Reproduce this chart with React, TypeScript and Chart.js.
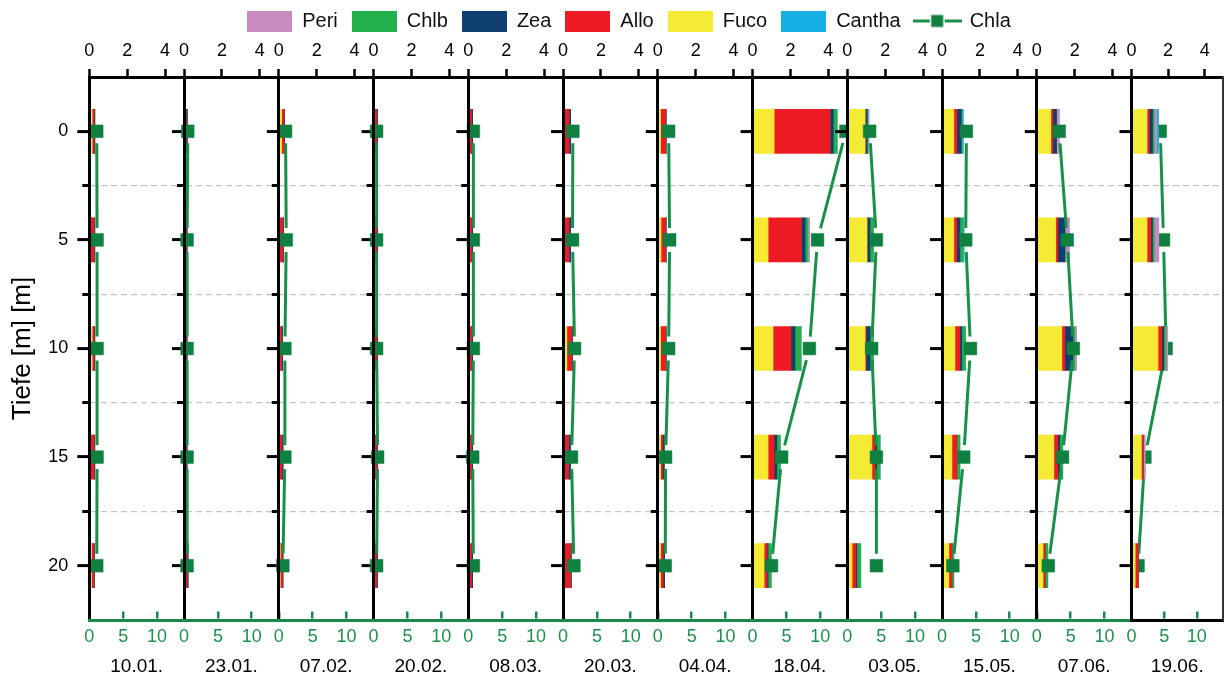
import React, { useEffect, useRef } from 'react';
import { Chart, registerables } from 'chart.js';

Chart.register(...registerables);

// ---------------- data ----------------
const dates = ['10.01.', '23.01.', '07.02.', '20.02.', '08.03.', '20.03.', '04.04.', '18.04.', '03.05.', '15.05.', '07.06.', '19.06.'];
const depths = [0, 5, 10, 15, 20];
const legendOrder = ['Peri', 'Chlb', 'Zea', 'Allo', 'Fuco', 'Cantha', 'Chla'];

// pigment values [date][depth] (top axis)
const fuco = [
  [0.15, 0.02, 0.15, 0.02, 0.12],
  [0.02, 0.02, 0.02, 0.02, 0.02],
  [0.15, 0.02, 0.05, 0.02, 0.08],
  [0.02, 0.02, 0.02, 0.02, 0.02],
  [0.02, 0.02, 0.02, 0.02, 0.02],
  [0.02, 0.02, 0.2, 0.02, 0.02],
  [0.15, 0.17, 0.15, 0.15, 0.15],
  [1.14, 0.82, 1.08, 0.82, 0.61],
  [0.94, 1.04, 0.94, 1.3, 0.25],
  [0.62, 0.62, 0.68, 0.52, 0.36],
  [0.74, 1.0, 1.32, 0.9, 0.33],
  [0.85, 0.85, 1.45, 0.54, 0.2],
];
const allo = [
  [0.1, 0.24, 0.1, 0.24, 0.12],
  [0.1, 0.1, 0.1, 0.1, 0.15],
  [0.13, 0.2, 0.1, 0.15, 0.12],
  [0.15, 0.15, 0.15, 0.15, 0.15],
  [0.15, 0.15, 0.15, 0.15, 0.15],
  [0.3, 0.3, 0.27, 0.27, 0.38],
  [0.27, 0.25, 0.27, 0.1, 0.14],
  [2.96, 1.76, 0.95, 0.32, 0.16],
  [0, 0, 0.05, 0.16, 0.21],
  [0.16, 0.16, 0.26, 0.26, 0.16],
  [0.11, 0.11, 0.16, 0.21, 0.11],
  [0.12, 0.21, 0.21, 0.1, 0.17],
];
const zea = [
  [0.04, 0.03, 0.04, 0.03, 0.03],
  [0.05, 0.04, 0.04, 0.04, 0.04],
  [0.03, 0.03, 0.05, 0.05, 0.02],
  [0.04, 0.04, 0.04, 0.04, 0.04],
  [0.06, 0.06, 0.06, 0.06, 0.06],
  [0.08, 0.08, 0.03, 0.1, 0.03],
  [0.02, 0.02, 0.02, 0.09, 0.07],
  [0.16, 0.2, 0.21, 0.14, 0.05],
  [0.1, 0.16, 0.21, 0.09, 0.05],
  [0.23, 0.16, 0.1, 0, 0],
  [0.19, 0.37, 0.42, 0.1, 0],
  [0.18, 0.09, 0.1, 0, 0],
];
const chlb = [
  [0, 0, 0, 0, 0],
  [0, 0, 0, 0, 0],
  [0, 0, 0, 0, 0],
  [0, 0, 0, 0, 0],
  [0, 0, 0, 0, 0],
  [0, 0, 0, 0, 0.02],
  [0, 0, 0, 0, 0],
  [0.2, 0.14, 0.32, 0.18, 0.16],
  [0.05, 0.18, 0.18, 0.18, 0.2],
  [0.05, 0.16, 0.2, 0.16, 0.1],
  [0, 0.03, 0.1, 0.16, 0.14],
  [0.09, 0.09, 0.12, 0, 0],
];
const peri = [
  [0, 0, 0, 0, 0],
  [0, 0, 0, 0, 0],
  [0, 0, 0, 0, 0],
  [0, 0, 0, 0, 0],
  [0, 0, 0, 0, 0],
  [0, 0, 0, 0, 0],
  [0, 0, 0, 0, 0],
  [0, 0.08, 0, 0, 0],
  [0.05, 0, 0, 0, 0],
  [0, 0, 0, 0, 0],
  [0.14, 0.2, 0.1, 0, 0],
  [0.14, 0.25, 0.1, 0.1, 0],
];
const cantha = [
  [0, 0, 0, 0, 0],
  [0, 0, 0, 0, 0],
  [0, 0, 0, 0, 0],
  [0, 0, 0, 0, 0],
  [0, 0, 0, 0, 0],
  [0, 0, 0, 0, 0],
  [0, 0, 0, 0, 0],
  [0, 0, 0, 0, 0],
  [0, 0, 0, 0, 0],
  [0.07, 0.07, 0, 0, 0],
  [0, 0, 0, 0, 0],
  [0.1, 0, 0, 0, 0],
];
// Chla [date][depth] (bottom axis)
const chla = [
  [1.1, 1.15, 1.15, 1.15, 1.1],
  [0.55, 0.45, 0.45, 0.45, 0.45],
  [1.0, 1.1, 0.9, 0.9, 0.6],
  [0.45, 0.45, 0.45, 0.6, 0.45],
  [0.75, 0.75, 0.75, 0.65, 0.75],
  [1.45, 1.4, 1.7, 1.25, 1.6],
  [1.6, 1.75, 1.6, 1.15, 1.1],
  [13.8, 9.6, 8.4, 4.3, 2.8],
  [3.3, 4.3, 3.6, 4.3, 4.3],
  [3.6, 3.5, 4.2, 3.2, 1.6],
  [3.3, 4.5, 5.4, 3.8, 1.7],
  [4.4, 4.9, 5.3, 2.05, 1.0],
];

// ---------------- styles ----------------
const FONT = "'Liberation Sans', Arial, Helvetica, sans-serif";
const COLORS: any = {
  Peri: '#c98bbf',
  Chlb: '#22b14c',
  Zea: '#0f3f6e',
  Allo: '#ed1c24',
  Fuco: '#f6eb34',
  Cantha: '#16b0e4',
};
const CHLA_MARK = '#0f8040';
const CHLA_LINE = '#19904a';
const AXIS_GREEN = '#1a8a4a';
const TEXT_GREEN = '#1f8f4e';
const GRID_GREY = '#c4c4c4';

// ---------------- layout ----------------
const PAGE_W = 1224;
const PAGE_H = 682;
const PANEL_TOP = 30;
const AREA_TOP = 77;
const AREA_BOTTOM = 620;
const AXIS0 = 89.3;
const STEP = 94.75;

function panelGeom(i: number) {
  const last = i === dates.length - 1;
  const axisX = last ? 1131.5 : AXIS0 + STEP * i;
  const panelW = last ? 91.5 : STEP;
  const left = i === 0 ? 0 : Math.floor(axisX - 16);
  const leftW = axisX - left;
  const width = Math.ceil(leftW + panelW + 14);
  const padRight = width - leftW - panelW;
  return { left, leftW, width, padRight, top: PANEL_TOP, height: PAGE_H - PANEL_TOP };
}

const isMinor = (v: any) => typeof v === 'number' && v > 0 && v < 22.5 && Math.abs(v % 5) === 2.5;
const isMajor = (v: any) => typeof v === 'number' && v >= 0 && v <= 20 && v % 5 === 0;

const gapLinePlugin = {
  id: 'gapLine',
  beforeDatasetDraw(chart: any, args: any) {
    const ds: any = chart.data.datasets[args.index];
    if (!ds.gapLine) return;
    const pts = args.meta.data;
    const ctx = chart.ctx;
    ctx.save();
    ctx.strokeStyle = ds.borderColor;
    ctx.lineWidth = 3;
    ctx.lineCap = 'butt';
    for (let k = 0; k < pts.length - 1; k++) {
      const a = pts[k];
      const b = pts[k + 1];
      const dx = b.x - a.x;
      const dy = b.y - a.y;
      const len = Math.hypot(dx, dy);
      const gap = 12;
      if (len <= 2 * gap) continue;
      const ux = dx / len;
      const uy = dy / len;
      ctx.beginPath();
      ctx.moveTo(a.x + ux * gap, a.y + uy * gap);
      ctx.lineTo(b.x - ux * gap, b.y - uy * gap);
      ctx.stroke();
    }
    ctx.restore();
  },
};

function panelConfig(i: number): any {
  const g = panelGeom(i);
  const first = i === 0;
  const last = i === dates.length - 1;
  const series = [
    { name: 'Fuco', values: fuco },
    { name: 'Allo', values: allo },
    { name: 'Zea', values: zea },
    { name: 'Chlb', values: chlb },
    { name: 'Peri', values: peri },
    { name: 'Cantha', values: cantha },
  ];
  const datasets: any[] = series.map((s) => ({
    type: 'bar',
    label: s.name,
    data: depths.map((d, k) => ({ x: s.values[i][k], y: d })),
    backgroundColor: COLORS[s.name],
    borderWidth: 0,
    barThickness: 44,
    xAxisID: 'x',
    yAxisID: 'y',
    stack: 'pig',
    order: 1,
  }));
  datasets.push({
    type: 'line',
    label: 'Chla',
    data: depths.map((d, k) => ({ x: chla[i][k], y: d })),
    xAxisID: 'x2',
    yAxisID: 'y',
    showLine: false,
    gapLine: true,
    borderColor: CHLA_LINE,
    backgroundColor: CHLA_MARK,
    pointStyle: 'rect',
    pointRadius: 9,
    pointBackgroundColor: CHLA_MARK,
    pointBorderColor: CHLA_MARK,
    pointBorderWidth: 0.5,
    clip: false,
    order: last ? 2 : 0,
  });

  const scales: any = {
    y: {
      type: 'linear',
      reverse: true,
      offset: false,
      min: -2.5,
      max: 22.5,
      ticks: {
        stepSize: 2.5,
        autoSkip: false,
        display: first,
        padding: 9,
        color: '#000',
        font: { size: 18 },
        callback: (v: any) => (isMajor(v) ? String(v) : ''),
      },
      grid: {
        display: true,
        offset: false,
        drawOnChartArea: true,
        drawTicks: true,
        tickLength: 12,
        lineWidth: 1.2,
        color: (c: any) => (isMinor(c.tick && c.tick.value) ? GRID_GREY : 'rgba(0,0,0,0)'),
        tickColor: (c: any) => {
          const v = c.tick && c.tick.value;
          return isMinor(v) || isMajor(v) ? '#000' : 'rgba(0,0,0,0)';
        },
        tickWidth: 3,
        tickBorderDash: (c: any) => (isMinor(c.tick && c.tick.value) ? [0, 5, 30, 0] : []),
      },
      border: {
        display: true,
        color: '#000',
        width: 3,
        z: 1,
        dash: (c: any) => (c.tick && isMinor(c.tick.value) ? [6, 4] : []),
      },
      title: {
        display: first,
        text: 'Tiefe [m] [m]',
        color: '#000',
        font: { size: 26 },
        padding: { top: 7, bottom: 0 },
      },
      afterFit: (s: any) => {
        s.width = g.leftW;
      },
    },
    x: {
      type: 'linear',
      position: 'top',
      min: 0,
      max: 5,
      stacked: true,
      ticks: { stepSize: 2, includeBounds: false, color: '#000', font: { size: 18 }, padding: 7, maxRotation: 0, autoSkip: false },
      grid: { drawOnChartArea: false, drawTicks: true, tickLength: 8, tickWidth: 2.5, tickColor: '#000', color: '#000' },
      border: { color: '#000', width: 3, z: 1 },
      afterFit: (s: any) => {
        s.height = AREA_TOP - PANEL_TOP;
      },
    },
    x2: {
      type: 'linear',
      position: 'bottom',
      min: 0,
      max: 14,
      ticks: { stepSize: 5, includeBounds: false, color: TEXT_GREEN, font: { size: 18 }, padding: 6, maxRotation: 0, autoSkip: false },
      grid: { display: true, drawOnChartArea: true, drawTicks: false, color: AXIS_GREEN, lineWidth: 2.5 },
      border: {
        color: last ? '#000' : AXIS_GREEN,
        width: 3,
        z: 1,
        dash: (c: any) => {
          if (!c.tick) return [];
          const a = c.chart.chartArea;
          if (!a) return [];
          const L = a.bottom - a.top - 1.5;
          return [0, Math.max(L - 7, 0), 7, 4000];
        },
      },
      title: { display: true, text: dates[i], color: '#000', font: { size: 19 }, padding: { top: 0, bottom: 4 } },
      afterFit: (s: any) => {
        s.height = PAGE_H - AREA_BOTTOM;
      },
    },
  };
  if (last) {
    scales.yr = {
      type: 'linear',
      position: 'right',
      display: true,
      min: 0,
      max: 1,
      ticks: { display: false },
      grid: { display: false, drawTicks: false, drawOnChartArea: false },
      border: { display: true, color: '#333', width: 2, z: 1 },
      afterFit: (s: any) => {
        s.width = 0;
      },
    };
  }

  return {
    type: 'bar',
    data: { datasets },
    options: {
      responsive: false,
      animation: false,
      devicePixelRatio: 1,
      indexAxis: 'y',
      events: [],
      layout: { padding: { left: 0, right: g.padRight, top: 0, bottom: 0 } },
      scales,
      plugins: { legend: { display: false }, tooltip: { enabled: false } },
    },
    plugins: [gapLinePlugin],
  };
}

function boxIcon(color: string) {
  const c = document.createElement('canvas');
  c.width = 45;
  c.height = 21;
  const g = c.getContext('2d')!;
  g.fillStyle = color;
  g.fillRect(0, 0, 45, 21);
  return c;
}

function chlaIcon() {
  const c = document.createElement('canvas');
  c.width = 49;
  c.height = 21;
  const g = c.getContext('2d')!;
  g.strokeStyle = CHLA_LINE;
  g.lineWidth = 3;
  g.beginPath();
  g.moveTo(0, 10.5);
  g.lineTo(17, 10.5);
  g.moveTo(32, 10.5);
  g.lineTo(49, 10.5);
  g.stroke();
  g.fillStyle = CHLA_MARK;
  g.fillRect(18.5, 4.5, 12, 12);
  return c;
}

function legendConfig(): any {
  const items = legendOrder.map((name, k) => ({
    text: name,
    pointStyle: name === 'Chla' ? chlaIcon() : boxIcon(COLORS[name]),
    fillStyle: name === 'Chla' ? CHLA_MARK : COLORS[name],
    strokeStyle: 'rgba(0,0,0,0)',
    lineWidth: 0,
    hidden: false,
    datasetIndex: k,
    fontColor: '#111',
  }));
  return {
    type: 'bar',
    data: { labels: [], datasets: legendOrder.map((n) => ({ label: n, data: [] })) },
    options: {
      responsive: false,
      animation: false,
      devicePixelRatio: 1,
      events: [],
      layout: { padding: 0 },
      scales: { x: { display: false }, y: { display: false } },
      plugins: {
        tooltip: { enabled: false },
        legend: {
          display: true,
          position: 'top',
          maxHeight: 80,
          labels: {
            usePointStyle: true,
            pointStyleWidth: 45,
            boxHeight: 21,
            padding: 14,
            color: '#111',
            font: { size: 20 },
            generateLabels: () => items,
          },
        },
      },
    },
  };
}

export default function App() {
  const legendRef = useRef<HTMLCanvasElement | null>(null);
  const panelRefs = useRef<(HTMLCanvasElement | null)[]>([]);

  useEffect(() => {
    Chart.defaults.font.family = FONT;
    const charts: any[] = [];
    if (legendRef.current) charts.push(new Chart(legendRef.current, legendConfig()));
    dates.forEach((_, i) => {
      const el = panelRefs.current[i];
      if (el) charts.push(new Chart(el, panelConfig(i)));
    });
    return () => charts.forEach((c) => c.destroy());
  }, []);

  const geoms = dates.map((_, i) => panelGeom(i));

  return (
    <div style={{ position: 'absolute', left: 0, top: 0, width: PAGE_W, height: PAGE_H, overflow: 'hidden', background: '#fff' }}>
      <canvas ref={legendRef} width={PAGE_W} height={120} style={{ position: 'absolute', left: 17, top: -3, width: PAGE_W, height: 120 }} />
      {geoms.map((g, i) => (
        <canvas
          key={i}
          ref={(el) => {
            panelRefs.current[i] = el;
          }}
          width={g.width}
          height={g.height}
          style={{ position: 'absolute', left: g.left, top: g.top, width: g.width, height: g.height }}
        />
      ))}
    </div>
  );
}
